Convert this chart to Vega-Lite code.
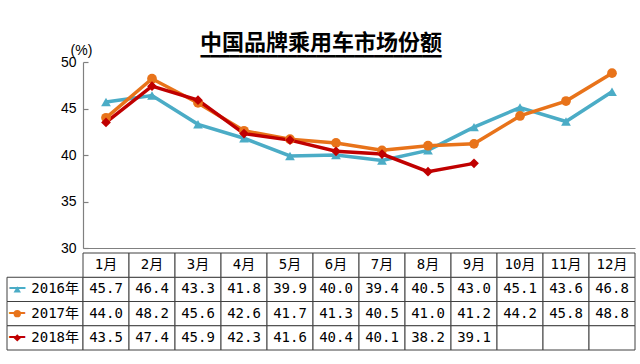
{
  "$schema": "https://vega.github.io/schema/vega-lite/v6.json",
  "background": "white",
  "padding": {"left": 6, "top": 32, "right": 6, "bottom": 5},
  "title": {
    "text": "中国品牌乘用车市场份额",
    "subtitle": "▔▔▔▔▔▔▔▔▔▔▔▔▔▔▔▔▔▔▔▔▔▔▔▔▔",
    "font": "Noto Sans CJK SC",
    "fontSize": 22,
    "fontWeight": "bold",
    "color": "black",
    "subtitleFont": "DejaVu Sans Mono",
    "subtitleFontSize": 16,
    "subtitleColor": "black",
    "subtitlePadding": 2,
    "anchor": "middle",
    "offset": -31
  },
  "config": {"view": {"stroke": null}, "font": "Noto Sans CJK SC"},
  "datasets": {
    "d": [
      {"series": "2016年", "month": "1月", "value": 45.7},
      {"series": "2016年", "month": "2月", "value": 46.4},
      {"series": "2016年", "month": "3月", "value": 43.3},
      {"series": "2016年", "month": "4月", "value": 41.8},
      {"series": "2016年", "month": "5月", "value": 39.9},
      {"series": "2016年", "month": "6月", "value": 40.0},
      {"series": "2016年", "month": "7月", "value": 39.4},
      {"series": "2016年", "month": "8月", "value": 40.5},
      {"series": "2016年", "month": "9月", "value": 43.0},
      {"series": "2016年", "month": "10月", "value": 45.1},
      {"series": "2016年", "month": "11月", "value": 43.6},
      {"series": "2016年", "month": "12月", "value": 46.8},
      {"series": "2017年", "month": "1月", "value": 44.0},
      {"series": "2017年", "month": "2月", "value": 48.2},
      {"series": "2017年", "month": "3月", "value": 45.6},
      {"series": "2017年", "month": "4月", "value": 42.6},
      {"series": "2017年", "month": "5月", "value": 41.7},
      {"series": "2017年", "month": "6月", "value": 41.3},
      {"series": "2017年", "month": "7月", "value": 40.5},
      {"series": "2017年", "month": "8月", "value": 41.0},
      {"series": "2017年", "month": "9月", "value": 41.2},
      {"series": "2017年", "month": "10月", "value": 44.2},
      {"series": "2017年", "month": "11月", "value": 45.8},
      {"series": "2017年", "month": "12月", "value": 48.8},
      {"series": "2018年", "month": "1月", "value": 43.5},
      {"series": "2018年", "month": "2月", "value": 47.4},
      {"series": "2018年", "month": "3月", "value": 45.9},
      {"series": "2018年", "month": "4月", "value": 42.3},
      {"series": "2018年", "month": "5月", "value": 41.6},
      {"series": "2018年", "month": "6月", "value": 40.4},
      {"series": "2018年", "month": "7月", "value": 40.1},
      {"series": "2018年", "month": "8月", "value": 38.2},
      {"series": "2018年", "month": "9月", "value": 39.1},
      {"series": "2018年", "month": "10月", "value": null},
      {"series": "2018年", "month": "11月", "value": null},
      {"series": "2018年", "month": "12月", "value": null}
    ]
  },
  "columns": 2,
  "spacing": {"row": 5, "column": 0},
  "bounds": "flush",
  "align": "each",
  "concat": [
    {
      "width": 76,
      "height": 186,
      "data": {"values": [{"a": 1}]},
      "mark": {"type": "point", "opacity": 0},
      "encoding": {}
    },
    {
      "width": 552,
      "height": 186,
      "data": {"name": "d"},
      "encoding": {
        "x": {
          "field": "month",
          "type": "ordinal",
          "sort": null,
          "scale": {"type": "point", "domain": ["1月","2月","3月","4月","5月","6月","7月","8月","9月","10月","11月","12月"], "padding": 0.5},
          "axis": {"labels": false, "ticks": false, "title": null, "grid": false, "domainColor": "#808080", "domainWidth": 1.2}
        },
        "y": {
          "field": "value",
          "type": "quantitative",
          "scale": {"domain": [30, 50], "nice": false, "zero": false},
          "axis": {
            "values": [30, 35, 40, 45, 50],
            "grid": false,
            "domainColor": "#808080",
            "domainWidth": 1.2,
            "tickColor": "#808080",
            "tickSize": -5,
            "tickWidth": 1.2,
            "labelFont": "Liberation Sans",
            "labelFontSize": 14,
            "labelColor": "black",
            "labelPadding": 12,
            "title": "(%)",
            "titleAngle": 0,
            "titleX": -2,
            "titleY": -5,
            "titleAlign": "center",
            "titleBaseline": "bottom",
            "titleFont": "Liberation Sans",
            "titleFontSize": 14,
            "titleFontWeight": "normal",
            "titleColor": "black"
          }
        },
        "color": {
          "field": "series",
          "type": "nominal",
          "scale": {"domain": ["2016年", "2017年", "2018年"], "range": ["#4BACC6", "#E8731A", "#C00000"]},
          "legend": null
        }
      },
      "layer": [
        {"mark": {"type": "line", "strokeWidth": 3.5}},
        {
          "mark": {"type": "point", "filled": true, "opacity": 1, "size": 95},
          "encoding": {
            "shape": {
              "field": "series",
              "type": "nominal",
              "scale": {"domain": ["2016年", "2017年", "2018年"], "range": ["triangle-up", "circle", "diamond"]},
              "legend": null
            }
          }
        }
      ]
    },
    {
      "width": 76,
      "height": 97,
      "data": {"name": "d"},
      "transform": [{"filter": "datum.month == '1月'"}],
      "encoding": {
        "y": {
          "field": "series",
          "type": "nominal",
          "scale": {"type": "band", "domain": ["月", "2016年", "2017年", "2018年"], "paddingInner": 0, "paddingOuter": 0},
          "axis": null
        },
        "color": {"field": "series", "type": "nominal", "scale": {"domain": ["2016年", "2017年", "2018年"], "range": ["#4BACC6", "#E8731A", "#C00000"]}, "legend": null}
      },
      "layer": [
        {
          "mark": {"type": "rect", "fill": "white", "stroke": "#404040", "strokeWidth": 1},
          "encoding": {
            "x": {"datum": "L", "type": "nominal", "scale": {"type": "band", "domain": ["L"], "paddingInner": 0, "paddingOuter": 0}, "axis": null},
            "color": {"value": null}
          }
        },
        {
          "mark": {"type": "text", "text": "━", "font": "Noto Sans CJK SC", "fontSize": 16, "align": "center", "baseline": "middle"},
          "encoding": {
            "x": {"datum": "L", "type": "nominal", "bandPosition": 0.135}
          }
        },
        {
          "mark": {"type": "point", "filled": true, "opacity": 1, "size": 55},
          "encoding": {
            "x": {"datum": "L", "type": "nominal", "bandPosition": 0.135},
            "shape": {"field": "series", "type": "nominal", "scale": {"domain": ["2016年", "2017年", "2018年"], "range": ["triangle-up", "circle", "diamond"]}, "legend": null}
          }
        },
        {
          "mark": {"type": "text", "align": "right", "dx": -4, "fontSize": 14, "font": "'DejaVu Sans Mono', 'Noto Sans CJK SC'", "color": "black"},
          "encoding": {
            "x": {"datum": "L", "type": "nominal", "bandPosition": 1},
            "text": {"field": "series"},
            "color": {"value": "black"}
          }
        }
      ]
    },
    {
      "width": 552,
      "height": 97,
      "data": {"name": "d"},
      "encoding": {
        "x": {
          "field": "month",
          "type": "nominal",
          "sort": null,
          "scale": {"type": "band", "domain": ["1月","2月","3月","4月","5月","6月","7月","8月","9月","10月","11月","12月"], "paddingInner": 0, "paddingOuter": 0},
          "axis": null
        },
        "y": {
          "field": "series",
          "type": "nominal",
          "scale": {"type": "band", "domain": ["月", "2016年", "2017年", "2018年"], "paddingInner": 0, "paddingOuter": 0},
          "axis": null
        }
      },
      "layer": [
        {"mark": {"type": "rect", "fill": "white", "stroke": "#404040", "strokeWidth": 1}},
        {
          "transform": [{"filter": "datum.series == '2016年'"}],
          "mark": {"type": "rect", "fill": "white", "stroke": "#404040", "strokeWidth": 1},
          "encoding": {"y": {"datum": "月", "type": "nominal"}}
        },
        {
          "transform": [{"filter": "datum.series == '2016年'"}],
          "mark": {"type": "text", "fontSize": 14, "font": "'DejaVu Sans Mono', 'Noto Sans CJK SC'", "color": "black"},
          "encoding": {"y": {"datum": "月", "type": "nominal"}, "text": {"field": "month"}}
        },
        {
          "transform": [{"filter": "datum.value != null"}],
          "mark": {"type": "text", "fontSize": 14, "font": "'DejaVu Sans Mono', 'Noto Sans CJK SC'", "color": "black"},
          "encoding": {"text": {"field": "value", "type": "quantitative", "format": ".1f"}}
        }
      ]
    }
  ]
}
